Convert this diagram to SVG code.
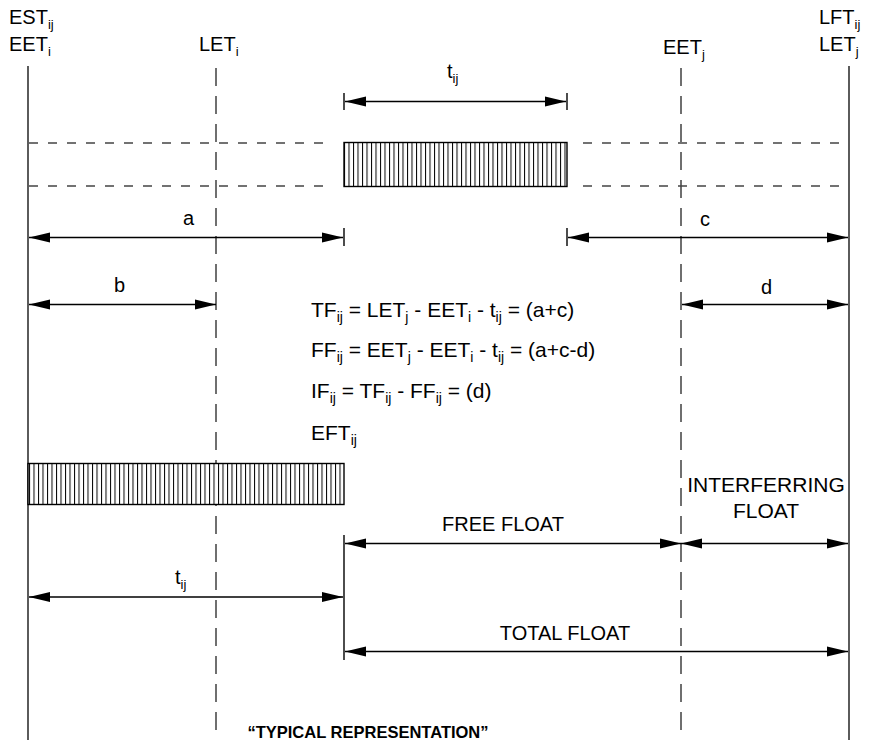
<svg xmlns="http://www.w3.org/2000/svg" width="870" height="747" viewBox="0 0 870 747">
<style>
text{font-family:"Liberation Sans",Arial,sans-serif;font-size:20px;fill:#000}
.sub{font-size:13px}
.f{font-size:21px}
.f .sub{font-size:14px}
.mid{text-anchor:middle}
.bold{font-weight:bold;font-size:16.5px}
.solid{stroke:#333;stroke-width:1.6;fill:none}
.vdash{stroke:#333;stroke-width:1.4;stroke-dasharray:18 10;fill:none}
.hdash{stroke:#444;stroke-width:1.4;stroke-dasharray:9 10;fill:none}
.dim{stroke:#000;stroke-width:1.4;fill:none;marker-start:url(#ah);marker-end:url(#ah)}
.tick{stroke:#000;stroke-width:1.4}
.bar{fill:url(#hatch);stroke:#000;stroke-width:1.4}
</style>
<defs>
<marker id="ah" markerUnits="userSpaceOnUse" markerWidth="22" markerHeight="12" refX="21" refY="5" orient="auto-start-reverse" viewBox="0 0 22 10">
<path d="M0,0 L21,5 L0,10 z" fill="#000"/>
</marker>
<pattern id="hatch" patternUnits="userSpaceOnUse" width="4.5" height="10" x="344">
<rect width="4.5" height="10" fill="#fff"/>
<line x1="0.5" y1="0" x2="0.5" y2="10" stroke="#000" stroke-width="1"/>
</pattern>
</defs>
<g id="timelines">
<line class="solid" x1="28" y1="66" x2="28" y2="740"/>
<line class="solid" x1="849" y1="66" x2="849" y2="740"/>
<line class="vdash" x1="216" y1="68" x2="216" y2="740"/>
<line class="vdash" x1="681" y1="68" x2="681" y2="740"/>
<line class="hdash" x1="29" y1="143" x2="330" y2="143"/>
<line class="hdash" x1="29" y1="186" x2="330" y2="186"/>
<line class="hdash" x1="583" y1="143" x2="848" y2="143"/>
<line class="hdash" x1="583" y1="186" x2="848" y2="186"/>
</g>
<g id="bar-top"><rect class="bar" x="344" y="142.5" width="223" height="44"/></g>
<g id="bar-bottom"><rect class="bar" x="28" y="463.5" width="316" height="41"/></g>
<g id="connectors">
<line class="tick" x1="344" y1="93" x2="344" y2="110"/>
<line class="tick" x1="567" y1="93" x2="567" y2="110"/>
<line class="dim" x1="345" y1="101.5" x2="566" y2="101.5"/>
<line class="tick" x1="344" y1="228" x2="344" y2="246"/>
<line class="tick" x1="567" y1="228" x2="567" y2="246"/>
<line class="dim" x1="29" y1="237.5" x2="343" y2="237.5"/>
<line class="dim" x1="568" y1="237.5" x2="848" y2="237.5"/>
<line class="dim" x1="29" y1="304.5" x2="216" y2="304.5"/>
<line class="dim" x1="682" y1="304.5" x2="848" y2="304.5"/>
<line class="tick" x1="344" y1="535" x2="344" y2="660"/>
<line class="dim" x1="345" y1="543.5" x2="681" y2="543.5"/>
<line class="dim" x1="681" y1="543.5" x2="848" y2="543.5"/>
<line class="dim" x1="29" y1="597" x2="343" y2="597"/>
<line class="dim" x1="345" y1="651.5" x2="848" y2="651.5"/>
</g>
<g id="labels">
<text x="9" y="24">EST<tspan class="sub" dy="5">ij</tspan></text>
<text x="9" y="51">EET<tspan class="sub" dy="5">i</tspan></text>
<text x="199" y="51">LET<tspan class="sub" dy="5">i</tspan></text>
<text x="447" y="78">t<tspan class="sub" dy="5">ij</tspan></text>
<text x="663" y="54">EET<tspan class="sub" dy="5">j</tspan></text>
<text x="819" y="24">LFT<tspan class="sub" dy="5">ij</tspan></text>
<text x="819" y="51">LET<tspan class="sub" dy="5">j</tspan></text>
<text x="183" y="225">a</text>
<text x="700" y="226">c</text>
<text x="114" y="292">b</text>
<text x="761" y="294">d</text>
<text class="f" x="311" y="317">TF<tspan class="sub" dy="5">ij</tspan><tspan dy="-5"> = LET</tspan><tspan class="sub" dy="5">j</tspan><tspan dy="-5"> - EET</tspan><tspan class="sub" dy="5">i</tspan><tspan dy="-5"> - t</tspan><tspan class="sub" dy="5">ij</tspan><tspan dy="-5"> = (a+c)</tspan></text>
<text class="f" x="311" y="357">FF<tspan class="sub" dy="5">ij</tspan><tspan dy="-5"> = EET</tspan><tspan class="sub" dy="5">j</tspan><tspan dy="-5"> - EET</tspan><tspan class="sub" dy="5">i</tspan><tspan dy="-5"> - t</tspan><tspan class="sub" dy="5">ij</tspan><tspan dy="-5"> = (a+c-d)</tspan></text>
<text class="f" x="311" y="398">IF<tspan class="sub" dy="5">ij</tspan><tspan dy="-5"> = TF</tspan><tspan class="sub" dy="5">ij</tspan><tspan dy="-5"> - FF</tspan><tspan class="sub" dy="5">ij</tspan><tspan dy="-5"> = (d)</tspan></text>
<text class="f" x="311" y="440">EFT<tspan class="sub" dy="5">ij</tspan></text>
<text class="mid f" x="766" y="492">INTERFERRING</text>
<text class="mid f" x="766" y="518">FLOAT</text>
<text class="mid" x="503" y="531">FREE FLOAT</text>
<text x="175" y="584">t<tspan class="sub" dy="5">ij</tspan></text>
<text class="mid" x="565" y="640">TOTAL FLOAT</text>
<text class="mid bold" x="368" y="738">“TYPICAL REPRESENTATION”</text>
</g>
</svg>
